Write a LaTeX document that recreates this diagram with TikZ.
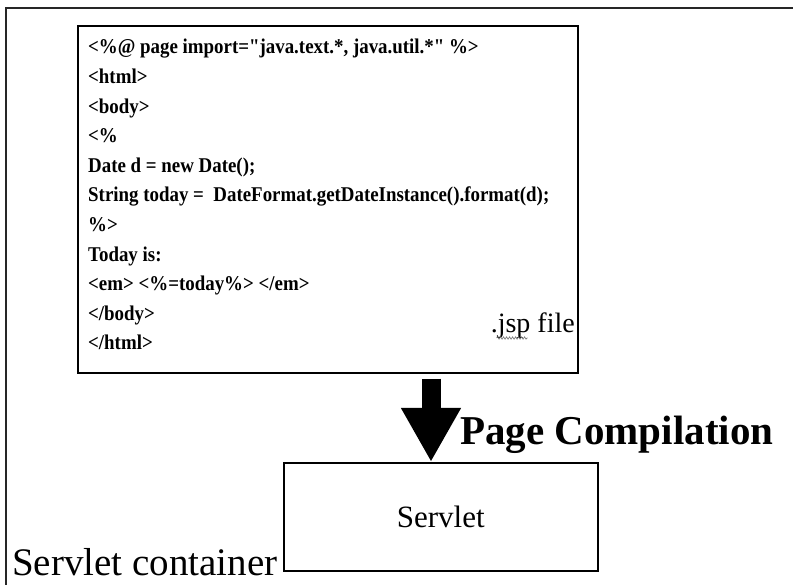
\documentclass[tikz,border=0pt]{standalone}
\usepackage{fontspec}
\setmainfont{Liberation Serif}
\newfontfamily\codefont{Liberation Serif}[FakeStretch=0.9]
\usetikzlibrary{arrows.meta,decorations.pathmorphing}
\begin{document}
\begin{tikzpicture}[x=1pt,y=-1pt,
  frame/.style={draw=black!85, line width=1.8pt},
  box/.style={draw=black, line width=1.6pt, inner sep=0pt, anchor=north west},
  code/.style={anchor=base west, inner sep=0pt, font=\codefont\fontsize{21}{25}\selectfont\bfseries},
  label/.style={anchor=base west, inner sep=0pt, font=\fontsize{40}{46}\selectfont},
  blockarrow/.style={line width=19pt, -{Triangle[width=56pt,length=54pt]}},
  squiggle/.style={draw=black!55, line width=0.6pt, decorate,
    decoration={snake, amplitude=1.2pt, segment length=3pt}}]
\useasboundingbox (0,0) rectangle (793,585);
\clip (0,0) rectangle (793,585);
\fill[white] (0,0) rectangle (793,585);

% servlet container (runs past the right and lower edges)
\draw[frame] (6,8) rectangle (830,630);

% the JSP source box
\node[box, minimum width=500pt, minimum height=347pt] (jsp) at (77,25) {};
\node[code] (l1)  at (88,54)  {<\%@ page import="java.text.*, java.util.*" \%>};
\node[code] (l2)  at (88,83.6)  {<html>};
\node[code] (l3)  at (88,113.2) {<body>};
\node[code] (l4)  at (88,142.8) {<\%};
\node[code] (l5)  at (88,172.4) {Date d = new Date();};
\node[code] (l6)  at (88,202) {String today =\ \ DateFormat.getDateInstance().format(d);};
\node[code] (l7)  at (88,231.6) {\%>};
\node[code] (l8)  at (88,261.2) {Today is:};
\node[code] (l9)  at (88,290.8) {<em> <\%=today\%> </em>};
\node[code] (l10) at (88,320.4) {</body>};
\node[code] (l11) at (88,350) {</html>};
\node[label, anchor=base east, font=\fontsize{28}{32}\selectfont] (ext) at (575,333) {.jsp file};
\draw[squiggle] ([xshift=6pt,yshift=-5pt]ext.base west) -- ([xshift=37pt,yshift=-5pt]ext.base west);

% compiled servlet
\node[box, minimum width=314pt, minimum height=108pt,
      font=\fontsize{31}{36}\selectfont] (servlet) at (283,462) {Servlet};

% compilation step
\coordinate (ax) at (431,0);
\draw[blockarrow] ([yshift=-5pt]jsp.south -| ax) -- (servlet.north -| ax);
\node[label, font=\fontsize{41}{46}\selectfont\bfseries] (pc) at (460,444) {Page Compilation};

\node[label, font=\fontsize{39}{44}\selectfont] (sc) at (12,575) {Servlet container};
\end{tikzpicture}
\end{document}
